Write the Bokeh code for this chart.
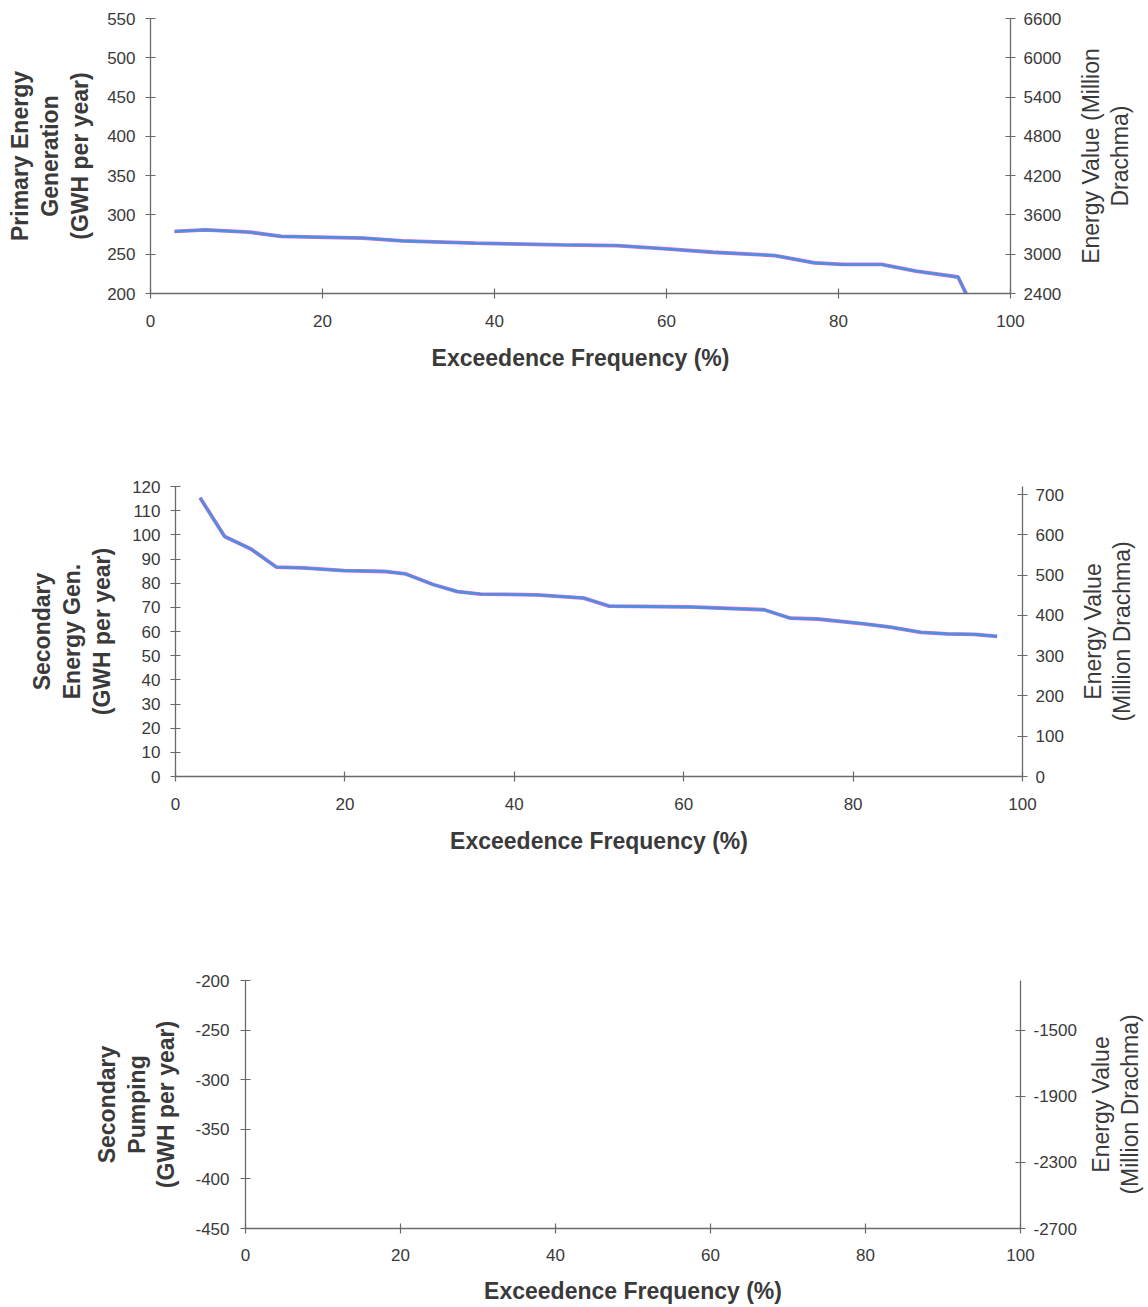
import math
from bokeh.plotting import figure
from bokeh.models import Range1d, LinearAxis, FixedTicker, Label
from bokeh.layouts import row
from bokeh.embed import file_html
from bokeh.resources import INLINE

# ---------------- data ----------------
freq_primary = [2.8, 6.4, 11.6, 15.2, 24.7, 29.3, 37.8, 47.7, 54.2, 60.1, 65.4, 72.6, 77.2, 80.5, 85.0, 89.0, 93.9, 95.0]
primary_gen = [279, 281, 278, 272.7, 270.6, 267, 264, 262, 261, 256.7, 252.5, 248.3, 239, 237, 237, 228.6, 221, 196]
primary_val = [3348, 3372, 3336, 3272, 3247, 3204, 3168, 3144, 3132, 3080, 3030, 2980, 2868, 2844, 2844, 2743, 2652, 2352]

freq_secondary = [2.9, 5.8, 8.9, 11.9, 15.1, 19.9, 24.6, 27.2, 30.5, 33.3, 36.0, 42.7, 48.2, 51.2, 60.8, 69.5, 72.6, 75.8, 81.3, 84.4, 88.0, 91.1, 94.3, 97.0]
secondary_gen = [115.3, 99.3, 94.2, 86.6, 86.3, 85.2, 84.9, 83.8, 79.3, 76.5, 75.5, 75.1, 73.9, 70.5, 70.1, 69.0, 65.5, 65.2, 63.2, 61.8, 59.7, 59.0, 58.8, 58.0]
secondary_val = [692, 596, 565, 520, 518, 511, 509, 503, 476, 459, 453, 451, 443, 423, 421, 414, 393, 391, 379, 371, 358, 354, 353, 348]

x_ticks = [0, 20, 40, 60, 80, 100]
primary_left_ticks = [200, 250, 300, 350, 400, 450, 500, 550]
primary_right_ticks = [2400, 3000, 3600, 4200, 4800, 5400, 6000, 6600]
secondary_left_ticks = [0, 10, 20, 30, 40, 50, 60, 70, 80, 90, 100, 110, 120]
secondary_right_ticks = [0, 100, 200, 300, 400, 500, 600, 700]
pumping_left_ticks = [-450, -400, -350, -300, -250, -200]
pumping_right_ticks = [-2700, -2300, -1900, -1500]

x_title = "Exceedence Frequency (%)"
t1_left = "Primary Energy\nGeneration\n(GWH per year)"
t1_right = "Energy Value (Million\nDrachma)"
t2_left = "Secondary\nEnergy Gen.\n(GWH per year)"
t2_right = "Energy Value\n(Million Drachma)"
t3_left = "Secondary\nPumping\n(GWH per year)"
t3_right = "Energy Value\n(Million Drachma)"

FONT = "Liberation Sans"
AX_COLOR = "#6a6a6a"
TXT = "#3a3a3a"
BLUE = "#4b8fe0"
PINK = "#d46fd4"
LH = 1.15


def style_axis(ax, bold):
    ax.axis_line_color = AX_COLOR
    ax.axis_line_width = 1.3
    ax.major_tick_line_color = AX_COLOR
    ax.major_tick_line_width = 1.2
    ax.major_tick_in = 5
    ax.major_tick_out = 5
    ax.minor_tick_line_color = None
    ax.major_label_text_font = FONT
    ax.major_label_text_font_size = "17px"
    ax.major_label_text_color = TXT
    ax.axis_label_text_font = FONT
    ax.axis_label_text_font_size = "23px"
    ax.axis_label_text_color = TXT
    ax.axis_label_text_font_style = "bold" if bold else "normal"
    ax.axis_label_text_line_height = LH


def make_panel(width, height, borders, yr, yr2, lticks, rticks, ltitle,
               rtitle, side_w, xstand=(16, 15), ystand=(10, 13)):
    left, right, top, bottom = borders
    p = figure(width=width, height=height, output_backend="svg", toolbar_location=None,
               x_range=Range1d(0, 100), y_range=Range1d(*yr),
               min_border_left=left, min_border_right=right,
               min_border_top=top, min_border_bottom=bottom)
    p.outline_line_color = None
    p.xgrid.grid_line_color = None
    p.ygrid.grid_line_color = None
    p.background_fill_color = "white"
    p.border_fill_color = "white"
    p.extra_y_ranges = {"right": Range1d(*yr2)}

    xa = p.xaxis[0]
    style_axis(xa, True)
    xa.ticker = FixedTicker(ticks=x_ticks)
    xa.axis_label = x_title
    xa.major_label_standoff = xstand[0]
    xa.axis_label_standoff = xstand[1]

    ya = p.yaxis[0]
    style_axis(ya, True)
    ya.ticker = FixedTicker(ticks=lticks)
    ya.axis_label = ltitle
    ya.major_label_standoff = ystand[0]
    ya.axis_label_standoff = ystand[1]
    ya.major_label_overrides = {v: str(v) for v in lticks}

    ra = LinearAxis(y_range_name="right")
    style_axis(ra, False)
    ra.ticker = FixedTicker(ticks=rticks)
    ra.major_label_standoff = 8
    ra.major_label_overrides = {v: str(v) for v in rticks}
    p.add_layout(ra, "right")

    # side strip holding the right-hand (value) axis title, reading upward
    s = figure(width=side_w, height=height, output_backend="svg", toolbar_location=None,
               x_range=Range1d(0, 1), y_range=Range1d(0, 1),
               x_axis_type=None, y_axis_type=None,
               min_border_left=0, min_border_right=0,
               min_border_top=top, min_border_bottom=bottom)
    s.outline_line_color = None
    s.xgrid.grid_line_color = None
    s.ygrid.grid_line_color = None
    s.border_fill_color = "white"
    s.background_fill_color = "white"
    s.add_layout(Label(x=0.5, y=0.5, text=rtitle, angle=math.pi / 2,
                       text_align="center", text_baseline="middle",
                       text_font=FONT, text_font_size="23px", text_color=TXT,
                       text_line_height=LH))
    return p, s


p1, s1 = make_panel(1070, 420, (150, 60, 18, 127), (200, 550), (2400, 6600),
                    primary_left_ticks, primary_right_ticks, t1_left, t1_right, 70,
                    ystand=(10, 11))
p1.line(freq_primary, primary_val, y_range_name="right", line_color=PINK, line_width=3.8)
p1.line(freq_primary, primary_gen, line_color=BLUE, line_width=2.6)

p2, s2 = make_panel(1072, 450, (175, 50, 66, 94), (0, 120), (0, 720),
                    secondary_left_ticks, secondary_right_ticks, t2_left, t2_right, 70,
                    ystand=(10, 14))
p2.line(freq_secondary, secondary_val, y_range_name="right", line_color=PINK, line_width=3.8)
p2.line(freq_secondary, secondary_gen, line_color=BLUE, line_width=2.6)

p3, s3 = make_panel(1085, 436, (245, 65, 110, 78), (-450, -200), (-2700, -1200),
                    pumping_left_ticks, pumping_right_ticks, t3_left, t3_right, 60,
                    xstand=(15, 14), ystand=(11, 13))

rows = [row(p1, s1, spacing=0), row(p2, s2, spacing=0), row(p3, s3, spacing=0)]
open("out.html", "w").write(file_html(rows, INLINE))
